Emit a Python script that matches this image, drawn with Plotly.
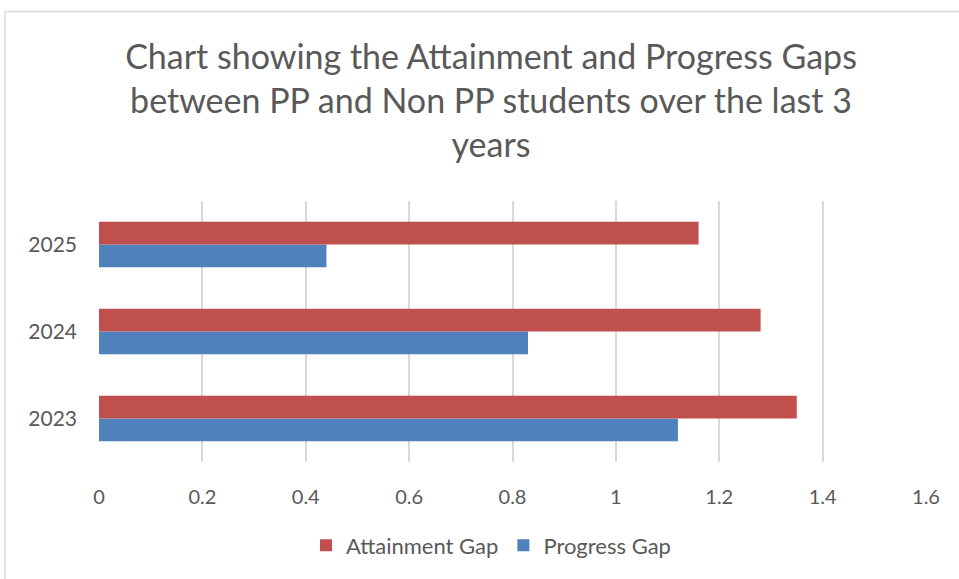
import plotly.graph_objects as go

years = ["2023", "2024", "2025"]
attainment_gap = [1.35, 1.28, 1.16]
progress_gap = [1.12, 0.83, 0.44]
x_ticks = [0, 0.2, 0.4, 0.6, 0.8, 1, 1.2, 1.4, 1.6]
x_tick_labels = ["0", "0.2", "0.4", "0.6", "0.8", "1", "1.2", "1.4", "1.6"]

W, H = 959, 579
L, R, T, B = 99, 33, 201, 115
pw, ph = W - L - R, H - T - B

fig = go.Figure()
fig.add_trace(go.Bar(
    y=years, x=progress_gap, orientation="h", name="Progress Gap",
    marker=dict(color="#4F81BD", line=dict(width=0)), legendrank=2,
))
fig.add_trace(go.Bar(
    y=years, x=attainment_gap, orientation="h", name="Attainment Gap",
    marker=dict(color="#C0504D", line=dict(width=0)), legendrank=1,
))

font_family = "Lato, 'Open Sans', sans-serif"

fig.update_layout(
    width=W, height=H,
    margin=dict(l=L, r=R, t=T, b=B),
    paper_bgcolor="white", plot_bgcolor="white",
    barmode="group", bargap=0.477, bargroupgap=0,
    font=dict(family=font_family, color="#595959"),
    title=dict(
        text="Chart showing the Attainment and Progress Gaps<br>between PP and Non PP students over the last 3<br>years",
        x=491 / W, xref="container", xanchor="center",
        y=1 - 69 / H, yanchor="top",
        font=dict(size=34, color="#595959", family=font_family),
    ),
    xaxis=dict(
        range=[0, 1.6], tickvals=x_ticks, ticktext=x_tick_labels,
        showgrid=True, gridcolor="#D9D9D9", gridwidth=1.5,
        zeroline=False, showline=False, ticks="",
        tickfont=dict(size=20, color="#595959"), ticklabelstandoff=21,
    ),
    yaxis=dict(
        showgrid=False, zeroline=False, showline=False, ticks="",
        tickfont=dict(size=21, color="#595959"), ticklabelstandoff=21,
    ),
    legend=dict(
        orientation="h", x=(491 - L) / pw, xanchor="center",
        y=-(548 - (T + ph)) / ph, yanchor="middle",
        font=dict(size=22, color="#595959"),
        itemwidth=30,
    ),
    showlegend=True,
)

# chart area border (top and left edges)
fig.add_shape(type="line", xref="paper", yref="paper",
              x0=(5 - L) / pw, x1=(W + 5 - L) / pw,
              y0=(H - 10 - B) / ph, y1=(H - 10 - B) / ph,
              line=dict(color="#D9D9D9", width=1.5))
fig.add_shape(type="line", xref="paper", yref="paper",
              x0=(5 - L) / pw, x1=(5 - L) / pw,
              y0=(H - 10 - B) / ph, y1=-(B + 5) / ph,
              line=dict(color="#D9D9D9", width=1.5))

fig.write_html("out.html", config={"displayModeBar": False},
               post_script="document.body.style.margin='0px';document.body.style.overflow='hidden';")
